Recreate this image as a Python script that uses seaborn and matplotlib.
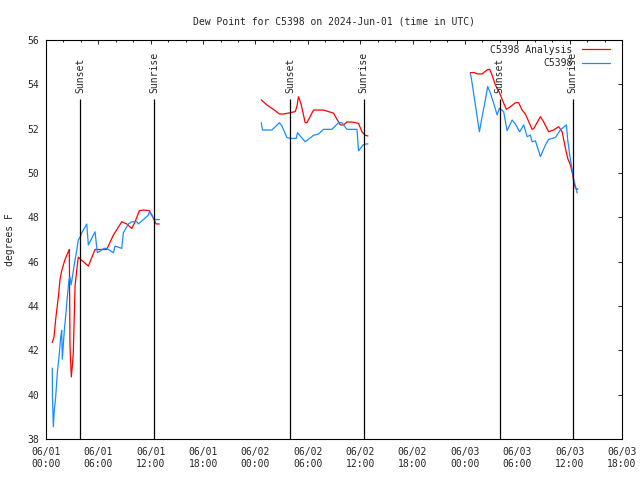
import matplotlib
matplotlib.use("Agg")
import matplotlib.pyplot as plt
import matplotlib.dates as mdates
import seaborn as sns
import pandas as pd

# hours after 2024-06-01 00:00 UTC, dew point in F, one list per gap-free piece
analysis_h1 = [0.72, 0.92, 1.11, 1.41, 1.61, 1.80, 2.18, 2.56, 2.67, 2.75, 2.90, 3.02, 3.13, 3.33, 3.52, 3.70,
               4.85, 5.62, 6.96, 7.72, 8.68, 9.25, 9.83, 10.21, 10.70, 11.16, 11.85, 12.31, 12.61, 12.99]
analysis_v1 = [42.35, 42.6, 43.4, 44.4, 45.2, 45.6, 46.1, 46.45, 46.55, 42.2, 40.8, 41.3, 41.9, 44.9, 45.6, 46.2,
               45.8, 46.55, 46.55, 47.2, 47.8, 47.7, 47.5, 47.8, 48.3, 48.33, 48.3, 47.96, 47.7, 47.7]
analysis_h2 = [24.66, 25.31, 26.07, 26.75, 27.21, 27.98, 28.56, 28.75, 28.93, 29.21, 29.70, 29.90, 30.65, 31.80,
               32.37, 32.95, 33.34, 33.72, 34.09, 34.48, 35.06, 35.81, 36.20, 36.58, 36.89]
analysis_v2 = [53.3, 53.07, 52.87, 52.66, 52.66, 52.72, 52.77, 53.0, 53.44, 53.14, 52.27, 52.27, 52.84, 52.84,
               52.77, 52.7, 52.42, 52.17, 52.17, 52.3, 52.3, 52.24, 51.86, 51.7, 51.67]
analysis_h3 = [48.62, 49.08, 49.39, 49.97, 50.54, 50.84, 51.11, 51.49, 51.99, 52.37, 52.75, 53.21, 53.78, 54.16,
               54.55, 54.93, 55.70, 55.88, 56.65, 57.03, 57.60, 58.17, 58.75, 59.14, 59.52, 59.78, 60.09, 60.36,
               60.47, 60.67, 60.93]
analysis_v3 = [54.53, 54.53, 54.47, 54.47, 54.65, 54.68, 54.42, 53.97, 53.6, 53.22, 52.87, 52.99, 53.17, 53.17,
               52.84, 52.66, 51.97, 52.0, 52.54, 52.3, 51.86, 51.94, 52.09, 51.86, 51.11, 50.66, 50.36, 49.9,
               49.6, 49.31, 49.27]

obs_h1 = [0.72, 0.74, 0.84, 0.95, 1.11, 1.30, 1.49, 1.69, 1.80, 1.87, 2.10, 2.29, 2.44, 2.64, 2.75, 2.87, 3.02,
          3.25, 3.52, 3.70, 3.90, 4.09, 4.67, 4.85, 5.62, 5.88, 6.65, 6.96, 7.72, 7.91, 8.68, 8.86, 9.44, 9.83,
          10.40, 10.58, 11.16, 11.73, 11.85, 12.12, 12.39, 12.61, 12.99]
obs_v1 = [41.2, 39.9, 38.55, 39.3, 39.9, 41.0, 41.7, 42.6, 42.9, 41.6, 42.9, 43.7, 44.4, 45.2, 45.3, 44.95, 45.3,
          45.9, 46.5, 46.98, 47.1, 47.3, 47.7, 46.75, 47.35, 46.4, 46.6, 46.6, 46.4, 46.7, 46.6, 47.3, 47.7, 47.8,
          47.8, 47.7, 47.9, 48.1, 48.25, 48.1, 47.9, 47.9, 47.9]
obs_h2 = [24.66, 24.81, 25.88, 26.75, 27.03, 27.60, 27.98, 28.67, 28.82, 29.13, 29.70, 30.65, 31.23, 31.80,
          32.76, 33.52, 33.91, 34.48, 35.63, 35.81, 36.32, 36.58, 36.89]
obs_v2 = [52.27, 51.94, 51.94, 52.27, 52.12, 51.6, 51.56, 51.56, 51.82, 51.67, 51.41, 51.7, 51.76, 51.97,
          51.97, 52.27, 52.27, 51.97, 51.97, 51.0, 51.26, 51.31, 51.31]
obs_h3 = [48.62, 48.74, 49.20, 49.66, 49.97, 50.34, 50.61, 50.92, 51.30, 51.69, 51.95, 52.44, 52.83, 53.41,
          53.78, 54.28, 54.74, 55.13, 55.50, 55.70, 56.08, 56.65, 57.22, 57.60, 58.37, 58.94, 59.63, 59.78,
          60.09, 60.36, 60.47, 60.67, 60.86]
obs_v3 = [54.5, 54.27, 53.07, 51.86, 52.54, 53.29, 53.9, 53.6, 53.14, 52.62, 52.92, 52.77, 51.91, 52.39,
          52.21, 51.86, 52.17, 51.64, 51.71, 51.41, 51.45, 50.74, 51.26, 51.52, 51.6, 51.94, 52.17, 51.49,
          50.59, 49.99, 49.7, 49.4, 49.1]

sunsets = ["2024-06-01 03:57", "2024-06-02 04:00", "2024-06-03 03:59"]
sunrises = ["2024-06-01 12:24", "2024-06-02 12:23", "2024-06-03 12:22"]

base = pd.Timestamp("2024-06-01 00:00")
rows = []
pieces = [("C5398 Analysis", analysis_h1, analysis_v1), ("C5398 Analysis", analysis_h2, analysis_v2),
          ("C5398 Analysis", analysis_h3, analysis_v3), ("C5398", obs_h1, obs_v1),
          ("C5398", obs_h2, obs_v2), ("C5398", obs_h3, obs_v3)]
for i, (name, hrs, vals) in enumerate(pieces):
    for h, v in zip(hrs, vals):
        rows.append({"time": base + pd.Timedelta(hours=h), "dewpoint": v, "series": name, "piece": i})
df = pd.DataFrame(rows)

sns.set_style("white")
plt.rcParams["font.family"] = ["DejaVu Sans Mono"]
plt.rcParams["font.size"] = 7

fig = plt.figure(figsize=(6.4, 4.8), dpi=100)
ax = fig.add_axes([46 / 640, 41 / 480, 576 / 640, 399 / 480])

sns.lineplot(data=df, x="time", y="dewpoint", hue="series", units="piece", estimator=None,
             hue_order=["C5398 Analysis", "C5398"], palette=["#ff0000", "#1a8cff"],
             linewidth=0.9, ax=ax, sort=False)

# sunset / sunrise markers
for t in sunsets:
    ax.vlines(pd.Timestamp(t), 38, 53.35, colors="black", linewidth=0.9)
    ax.text(pd.Timestamp(t), 53.62, "Sunset", rotation=90, ha="center", va="bottom", fontsize=7)
for t in sunrises:
    ax.vlines(pd.Timestamp(t), 38, 53.35, colors="black", linewidth=0.9)
    ax.text(pd.Timestamp(t), 53.62, "Sunrise", rotation=90, ha="center", va="bottom", fontsize=7)

ax.set_xlim(pd.Timestamp("2024-06-01 00:00"), pd.Timestamp("2024-06-03 18:00"))
ax.set_ylim(38, 56)
ax.set_yticks(range(38, 57, 2))
ax.xaxis.set_major_locator(mdates.HourLocator(byhour=range(0, 24, 6)))
ax.xaxis.set_minor_locator(mdates.HourLocator(byhour=range(0, 24, 2)))
ax.xaxis.set_major_formatter(mdates.DateFormatter("%m/%d\n%H:%M"))
ax.tick_params(which="major", direction="in", top=True, right=True, length=2.9, width=0.7, labelsize=7, pad=6)
ax.tick_params(which="minor", direction="in", top=True, right=False, length=1.5, width=0.7)
ax.tick_params(axis="y", which="major", pad=5)
for s in ax.spines.values():
    s.set_color("black")
    s.set_linewidth(0.8)

ax.set_title("Dew Point for C5398 on 2024-Jun-01 (time in UTC)", fontsize=7, pad=11)
ax.set_xlabel("")
ax.set_ylabel("degrees F", fontsize=7)
ax.yaxis.set_label_coords(-31 / 576, 0.5)

handles, labels = ax.get_legend_handles_labels()
ax.legend(handles, labels, loc="upper right", frameon=False, markerfirst=False, fontsize=7,
          handlelength=2.9, handletextpad=1.0, labelspacing=0.35, borderaxespad=0.5,
          bbox_to_anchor=(1 - 3 / 576, 1 + 4 / 399))

fig.savefig("out.png", dpi=100)
